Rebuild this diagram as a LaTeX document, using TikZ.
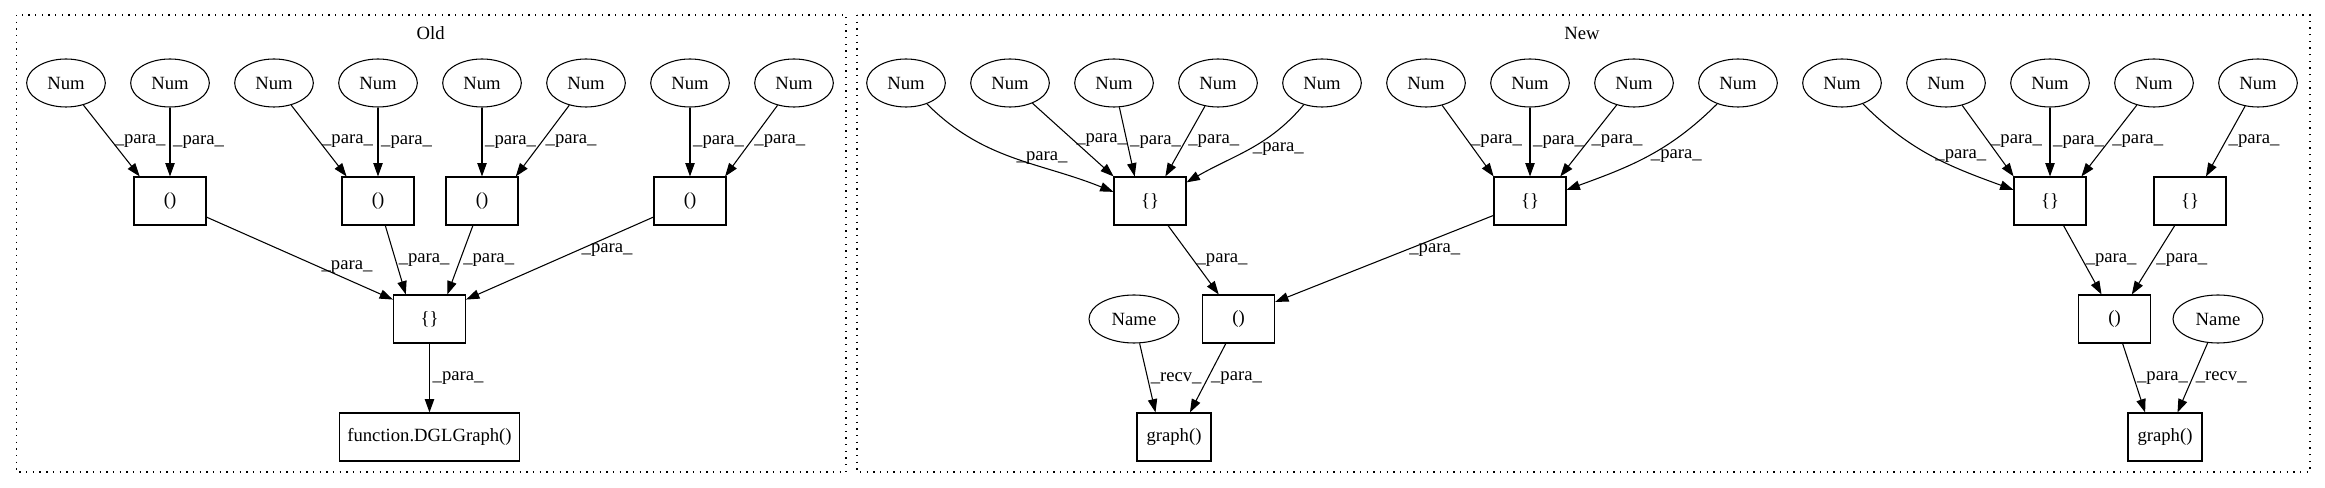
\documentclass[tikz,border=0pt]{standalone}
\usepackage{fontspec}
\setmainfont{Liberation Serif}
\usetikzlibrary{positioning,shapes.geometric,arrows.meta}

\begin{document}
\begin{tikzpicture}[node distance=78pt, x=0.75pt, y=0.75pt, font=\fontsize{14pt}{16pt}\selectfont]

\tikzstyle{oval} = [ellipse, draw=black, thick, minimum width=59pt, minimum height=36pt, inner sep=0pt]
\tikzstyle{callbox} = [rectangle, draw=black, thick, minimum width=54pt, minimum height=36pt, inner xsep=6pt]
\tikzstyle{cluster} = [thick, dash pattern=on 1pt off 4pt]
\tikzstyle{arrow} = [thick,->,>={Stealth[inset=0pt,length=10pt,width=7pt]}]
\tikzstyle{lbl} = [midway, right, inner sep=2pt]

\useasboundingbox (0,0) rectangle (2325,-488);

% Old
\draw [cluster] (16.5,-15) rectangle (846,-472);
\node (old) at (430.6,-33) {Old};
\node (n1) [oval] at (66,-83) {Num};
\node (n2) [oval, right of=n1] {Num};
\node (n3) [oval, right of=n2] {Num};
\node (n4) [oval, right of=n3] {Num};
\node (n5) [oval, right of=n4] {Num};
\node (n6) [oval, right of=n5] {Num};
\node (n7) [oval, right of=n6] {Num};
\node (n8) [oval, right of=n7] {Num};
\node (p1) [callbox, below of=n2, node distance=88.5pt] {()};
\node (p2) [callbox, below of=n4, node distance=88.5pt] {()};
\node (p3) [callbox, below of=n5, node distance=88.5pt] {()};
\node (p4) [callbox, below of=n7, node distance=88.5pt] {()};
\node (b0) [callbox] at (429.5,-319) {\{\}};
\node (dgl) [callbox, below of=b0, node distance=88.5pt, minimum width=135pt] {function.DGLGraph()};

\draw [arrow] (n1) -- node[lbl] {\_para\_} (p1.141);
\draw [arrow] (n2) -- node[lbl] {\_para\_} (p1);
\draw [arrow] (n3) -- node[lbl] {\_para\_} (p2.142);
\draw [arrow] (n4) -- node[lbl] {\_para\_} (p2);
\draw [arrow] (n5) -- node[lbl] {\_para\_} (p3);
\draw [arrow] (n6) -- node[lbl] {\_para\_} (p3.36);
\draw [arrow] (n7) -- node[lbl] {\_para\_} (p4);
\draw [arrow] (n8) -- node[lbl] {\_para\_} (p4.35);
\draw [arrow] (p1) -- node[lbl, pos=0.6] {\_para\_} (b0.152);
\draw [arrow] (p2) -- node[lbl] {\_para\_} (b0.134);
\draw [arrow] (p3) -- node[lbl] {\_para\_} (b0.54);
\draw [arrow] (p4) -- node[lbl, pos=0.4] {\_para\_} (b0.28);
\draw [arrow] (b0) -- node[lbl] {\_para\_} (dgl);

% New
\draw [cluster] (857,-15) rectangle (2310,-472);
\node (new) at (1582,-33) {New};
\node (n9) [oval] at (906,-83) {Num};
\node (n10) [oval, right of=n9] {Num};
\node (n11) [oval, right of=n10] {Num};
\node (n12) [oval, right of=n11] {Num};
\node (n13) [oval, right of=n12] {Num};
\node (n14) [oval, right of=n13] {Num};
\node (n15) [oval, right of=n14] {Num};
\node (n16) [oval, right of=n15] {Num};
\node (n17) [oval, right of=n16] {Num};
\node (n18) [oval, right of=n17] {Num};
\node (n19) [oval, right of=n18] {Num};
\node (n20) [oval, right of=n19] {Num};
\node (n21) [oval, right of=n20] {Num};
\node (n22) [oval, right of=n21] {Num};
\node (ba) [callbox] at (1150,-201) {\{\}};
\node (bb) [callbox, below of=n15, node distance=88.5pt] {\{\}};
\node (bc) [callbox, below of=n20, node distance=88.5pt] {\{\}};
\node (bd) [callbox] at (2190,-201) {\{\}};
\node (pa) [callbox] at (1238.6,-319) {()};
\node (m1) [oval, minimum width=67.5pt] at (1134,-319) {Name};
\node (g1) [callbox, minimum width=55.5pt] at (1174,-437) {graph()};
\node (pc) [callbox] at (2114.6,-319) {()};
\node (m2) [oval, minimum width=67.5pt] at (2218,-319) {Name};
\node (g2) [callbox, minimum width=55.5pt] at (2165,-437) {graph()};

\draw [arrow] (n9) to[out=-45, in=158] node[lbl] {\_para\_} (ba.166);
\draw [arrow] (n10) -- node[lbl] {\_para\_} (ba.146);
\draw [arrow] (n11) -- node[lbl] {\_para\_} (ba.122);
\draw [arrow] (n12) -- node[lbl] {\_para\_} (ba.58);
\draw [arrow] (n13) to[out=-130, in=30] node[lbl] {\_para\_} (ba.27);
\draw [arrow] (n14) -- node[lbl] {\_para\_} (bb.146);
\draw [arrow] (n15) -- node[lbl] {\_para\_} (bb);
\draw [arrow] (n16) -- node[lbl] {\_para\_} (bb.39);
\draw [arrow] (n17) to[out=-135, in=20] node[lbl] {\_para\_} (bb.17);
\draw [arrow] (n18) to[out=-45, in=160] node[lbl] {\_para\_} (bc.163);
\draw [arrow] (n19) -- node[lbl] {\_para\_} (bc.146);
\draw [arrow] (n20) -- node[lbl] {\_para\_} (bc);
\draw [arrow] (n21) -- node[lbl] {\_para\_} (bc.38);
\draw [arrow] (n22) -- node[lbl] {\_para\_} (bd.57);
\draw [arrow] (ba) -- node[lbl] {\_para\_} (pa.129);
\draw [arrow] (bb) -- node[lbl, pos=0.4] {\_para\_} (pa.25);
\draw [arrow] (bc) -- node[lbl] {\_para\_} (pc.118);
\draw [arrow] (bd) -- node[lbl] {\_para\_} (pc.55);
\draw [arrow] (m1) -- node[lbl] {\_recv\_} (g1.127);
\draw [arrow] (pa) -- node[lbl] {\_para\_} (g1.57);
\draw [arrow] (pc) -- node[lbl] {\_para\_} (g2.129);
\draw [arrow] (m2) -- node[lbl] {\_recv\_} (g2.63);

\end{tikzpicture}
\end{document}
